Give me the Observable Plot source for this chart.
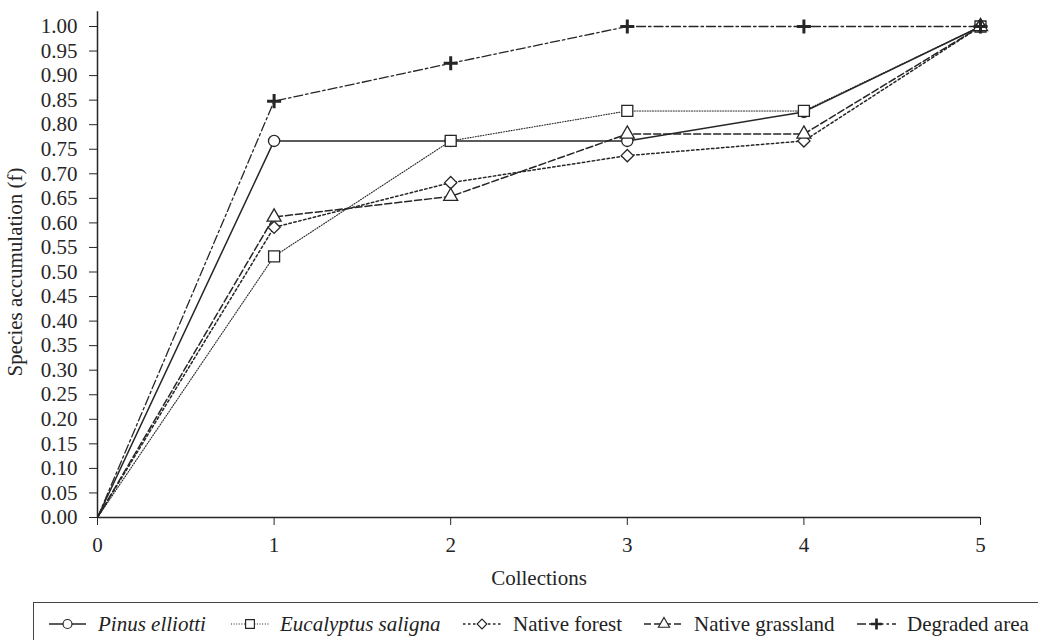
<!DOCTYPE html>
<html>
<head>
<meta charset="utf-8">
<script src="https://cdn.jsdelivr.net/npm/d3@7"></script>
<script src="https://cdn.jsdelivr.net/npm/@observablehq/plot@0.6"></script>
<style>
  html, body { margin: 0; padding: 0; background: #fff; }
  body { width: 1038px; height: 640px; overflow: hidden; font-family: "Liberation Serif", "DejaVu Serif", serif; color: #222; position: relative; }
  #legend { position: absolute; left: 33px; top: 602px; width: 1010px; height: 42px; border-top: 1.5px solid #444; border-left: 1.5px solid #444; box-sizing: border-box; }
  .item { position: absolute; top: 9px; height: 24px; display: flex; align-items: center; font-size: 21px; white-space: nowrap; }
  .item svg { display: block; }
  .item span { position: absolute; }
</style>
</head>
<body>
<div id="chart"></div>
<div id="legend"></div>
<script>
const collections = [0, 1, 2, 3, 4, 5];
const seriesNames = ["Pinus elliotti", "Eucalyptus saligna", "Native forest", "Native grassland", "Degraded area"];
const pinus           = [0, 0.767, 0.767, 0.767, 0.826, 1.0];
const eucalyptus      = [0, 0.532, 0.767, 0.828, 0.828, 1.0];
const nativeForest    = [0, 0.591, 0.682, 0.737, 0.767, 1.0];
const nativeGrassland = [0, 0.612, 0.654, 0.781, 0.781, 1.0];
const degraded        = [0, 0.848, 0.925, 1.0, 1.0, 1.0];
const yTicks = d3.range(0, 21).map(i => i * 0.05);

const seriesValues = [pinus, eucalyptus, nativeForest, nativeGrassland, degraded];
const styles = [
  {symbol: "circle",   r: 5.6, dash: null,        sw: 1.5, mstroke: 1.3, italic: true},
  {symbol: "square",   r: 6.2, dash: "1,1.6",     sw: 1.1, mstroke: 1.3, italic: true},
  {symbol: "diamond2", r: 5.5, dash: "2.5,2.5",   sw: 1.5, mstroke: 1.3, italic: false},
  {symbol: "triangle", r: 5.2, dash: "7,3",       sw: 1.5, mstroke: 1.3, italic: false},
  {symbol: "plus",     r: 4.6, dash: "9,3,2.5,3", sw: 1.3, mstroke: 3,   italic: false}
];
// legend layout: [swatch left, swatch right, text left]
const legendPos = [[48, 85, 97], [230, 268, 279], [462, 500, 512], [643, 683, 693], [856, 895, 906]];

const data = [];
seriesNames.forEach((name, s) => {
  collections.forEach((c, i) => data.push({series: name, s, x: c, y: seriesValues[s][i]}));
});

const ink = "#262626";
const marks = [
  Plot.ruleY([0], {stroke: ink, strokeWidth: 1.5}),
  Plot.ruleX([0], {y1: 0, y2: 1.03, stroke: ink, strokeWidth: 1.5}),
  Plot.axisY({ticks: yTicks, tickFormat: d3.format(".2f"), tickSize: 8, tickPadding: 12, fontSize: 21,
              label: "Species accumulation (f)", labelAnchor: "center", labelArrow: "none", labelOffset: 90, stroke: ink, color: ink}),
  Plot.axisX({ticks: collections, tickFormat: d3.format("d"), tickSize: 8, tickPadding: 12, fontSize: 21,
              label: "Collections", labelAnchor: "center", labelArrow: "none", labelOffset: 67, stroke: ink, color: ink})
];
seriesNames.forEach((name, s) => {
  const st = styles[s];
  const d = data.filter(o => o.s === s);
  marks.push(Plot.line(d, {x: "x", y: "y", stroke: ink, strokeWidth: st.sw, strokeDasharray: st.dash}));
});
seriesNames.forEach((name, s) => {
  const st = styles[s];
  const d = data.filter(o => o.s === s && o.x > 0);
  marks.push(Plot.dot(d, {x: "x", y: "y", symbol: () => st.symbol, r: st.r, fill: st.symbol === "plus" ? "none" : "white", stroke: ink, strokeWidth: st.mstroke}));
});

const chart = Plot.plot({
  width: 1038,
  height: 600,
  marginLeft: 97,
  marginRight: 58,
  marginTop: 26,
  marginBottom: 83,
  style: {fontFamily: "'Liberation Serif', 'DejaVu Serif', serif", fontSize: "21px", color: ink, background: "white"},
  x: {domain: [0, 5]},
  y: {domain: [0, 1]},
  symbol: {type: "identity"},
  marks
});
document.getElementById("chart").appendChild(chart);

// Legend
const legend = document.getElementById("legend");
const symMap = {circle: d3.symbolCircle, square: d3.symbolSquare, diamond2: d3.symbolDiamond2, triangle: d3.symbolTriangle, plus: d3.symbolPlus};
seriesNames.forEach((name, s) => {
  const st = styles[s];
  const [x0, x1, tx] = legendPos[s];
  const div = document.createElement("div");
  div.className = "item";
  div.style.left = (x0 - 33) + "px";
  const w = x1 - x0, h = 24;
  const svg = d3.create("svg").attr("width", w).attr("height", h);
  svg.append("line").attr("x1", 0).attr("x2", w).attr("y1", h / 2).attr("y2", h / 2)
    .attr("stroke", ink).attr("stroke-width", st.sw).attr("stroke-dasharray", st.dash);
  const rr = st.r * 0.8;
  svg.append("path").attr("transform", `translate(${w / 2},${h / 2})`)
    .attr("d", d3.symbol(symMap[st.symbol], Math.PI * rr * rr)())
    .attr("fill", st.symbol === "plus" ? "none" : "white").attr("stroke", ink).attr("stroke-width", st.mstroke * 0.9);
  div.appendChild(svg.node());
  const span = document.createElement("span");
  span.textContent = name;
  span.style.left = (tx - x0) + "px";
  if (st.italic) span.style.fontStyle = "italic";
  div.appendChild(span);
  legend.appendChild(div);
});
</script>
</body>
</html>
